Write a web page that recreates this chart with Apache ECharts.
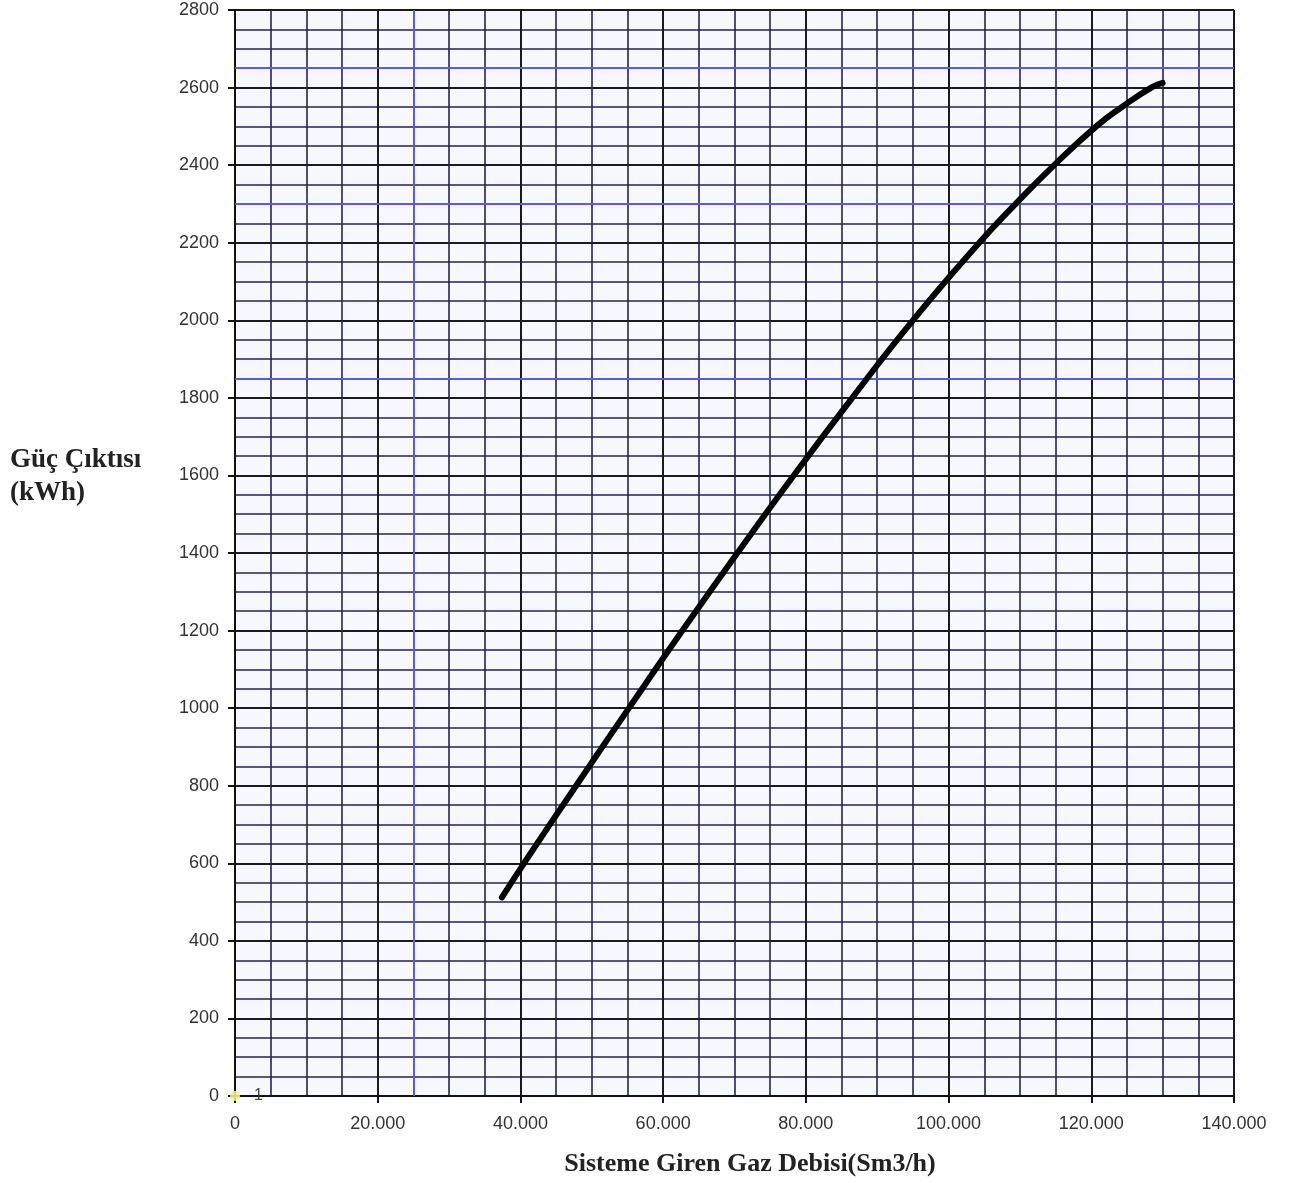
<!DOCTYPE html>
<html>
<head>
    <meta charset="utf-8">
    <title>Güç Çıktısı</title>
    <script src="https://cdn.jsdelivr.net/npm/echarts@6/dist/echarts.min.js"></script>
    <style>
        html, body {
            margin: 0;
            padding: 0;
            background: #fff;
        }

        #chart {
            width: 1303px;
            height: 1183px;
        }
    </style>
</head>
<body>
<div id="chart"></div>
<script>
    // gaz debisi (Sm3/h) ve güç çıktısı (kWh)
    var gasFlow = [37400, 40500, 47800, 55200, 62700, 70400, 78300, 86500, 95000, 104300, 109400, 114800, 120700, 124300, 128400, 130000];
    var powerOut = [512, 600, 800, 1000, 1200, 1400, 1600, 1800, 2000, 2200, 2300, 2400, 2500, 2550, 2600, 2612];

    // orijindeki "1" etiketli nokta
    var originPoint = [0, 0];
    var originLabel = '1';

    // mavi vurgulu ızgara çizgileri
    var blueX = [25000];
    var blueY = [2650, 2300, 1850];

    var xMax = 140000, xStep = 20000;
    var yMax = 2800, yStep = 200;

    var chart = echarts.init(document.getElementById('chart'));

    var curve = [];
    for (var i = 0; i < gasFlow.length; i++) {
        curve.push([gasFlow[i], powerOut[i]]);
    }

    var marks = [];
    blueX.forEach(function (v) { marks.push({ xAxis: v }); });
    blueY.forEach(function (v) { marks.push({ yAxis: v }); });

    function fmtThousands(v) {
        if (v === 0) return '0';
        return String(v).replace(/\B(?=(\d{3})+(?!\d))/g, '.');
    }

    var labelFont = '"Liberation Sans", Arial, sans-serif';

    var option = {
        animation: false,
        backgroundColor: '#ffffff',
        grid: {
            left: 235,
            right: 69,
            top: 10,
            bottom: 87,
            show: true,
            backgroundColor: '#f7f7ff',
            borderWidth: 0
        },
        graphic: [
            {
                type: 'text',
                left: 10,
                top: 444,
                style: {
                    text: 'Güç Çıktısı\n(kWh)',
                    font: 'bold 27px "Liberation Serif", serif',
                    fill: '#222',
                    lineHeight: 33
                }
            },
            {
                type: 'text',
                x: 750,
                y: 1151,
                style: {
                    text: 'Sisteme Giren Gaz Debisi(Sm3/h)',
                    font: 'bold 26px "Liberation Serif", serif',
                    fill: '#222',
                    textAlign: 'center'
                }
            }
        ],
        xAxis: {
            type: 'value',
            min: 0,
            max: xMax,
            interval: xStep,
            axisLine: { show: true, lineStyle: { color: '#111', width: 2 } },
            axisTick: { show: true, length: 7, lineStyle: { color: '#111', width: 2 } },
            minorTick: { show: false, splitNumber: 4 },
            axisLabel: {
                margin: 19,
                color: '#333',
                fontSize: 18,
                fontFamily: labelFont,
                formatter: fmtThousands
            },
            splitLine: { show: true, lineStyle: { color: '#1a1a1a', width: 2 } },
            minorSplitLine: { show: true, lineStyle: { color: '#23234f', width: 1.6 } }
        },
        yAxis: {
            type: 'value',
            min: 0,
            max: yMax,
            interval: yStep,
            axisLine: { show: true, lineStyle: { color: '#111', width: 2 } },
            axisTick: { show: true, length: 7, lineStyle: { color: '#111', width: 2 } },
            minorTick: { show: false, splitNumber: 4 },
            axisLabel: {
                margin: 16,
                color: '#333',
                fontSize: 18,
                fontFamily: labelFont,
                formatter: function (v) { return String(v); }
            },
            splitLine: { show: true, lineStyle: { color: '#1a1a1a', width: 2 } },
            minorSplitLine: { show: true, lineStyle: { color: '#23234f', width: 1.6 } }
        },
        series: [
            {
                name: 'Güç',
                type: 'line',
                data: curve,
                smooth: 0.5,
                showSymbol: false,
                lineStyle: { color: '#000', width: 6, cap: 'round' },
                markLine: {
                    silent: true,
                    symbol: 'none',
                    label: { show: false },
                    lineStyle: { color: '#5a5ae6', width: 2, type: 'solid' },
                    data: marks
                },
                z: 5
            },
            {
                name: 'nokta',
                type: 'scatter',
                data: [originPoint],
                symbolSize: 10,
                itemStyle: { color: '#eeee90', opacity: 0.9 },
                label: {
                    show: true,
                    position: 'right',
                    distance: 14,
                    formatter: originLabel,
                    color: '#333',
                    fontSize: 16,
                    fontFamily: labelFont
                },
                z: 6
            }
        ]
    };

    chart.setOption(option);
</script>
</body>
</html>
